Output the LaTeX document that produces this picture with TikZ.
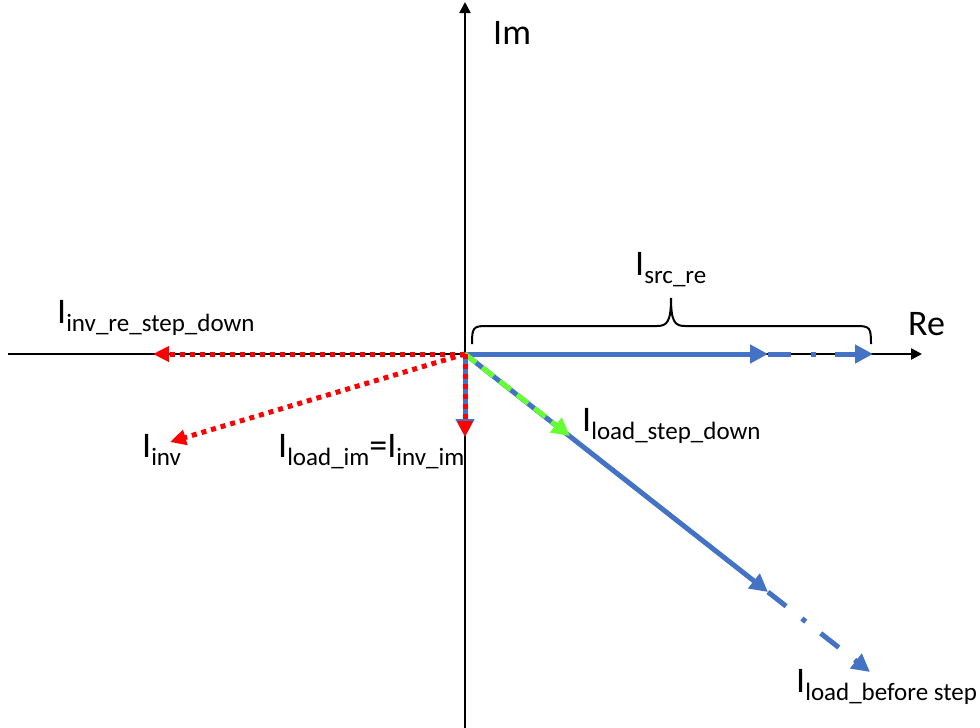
\documentclass[tikz,border=0pt]{standalone}
\usepackage{fontspec}
\setmainfont{Carlito}
\usetikzlibrary{arrows.meta}
\definecolor{vblue}{RGB}{68,114,196}
\definecolor{vred}{RGB}{255,0,0}
\definecolor{vgreen}{RGB}{102,255,51}
\newcommand{\Isub}[1]{I\raisebox{-8pt}{\fontsize{25}{25}\selectfont #1}}
\begin{document}
\begin{tikzpicture}[x=1pt,y=-1pt,
  axis/.style={line width=2.4pt, black, -{Triangle[length=11pt,width=11pt]}},
  bluevec/.style={line width=5pt, vblue, -{Triangle[length=18pt,width=18pt]}},
  bluedd/.style={bluevec, dash pattern=on 23pt off 20pt on 5pt off 19pt},
  redvec/.style={line width=5pt, vred, dash pattern=on 5pt off 5pt, -{Triangle[length=16pt,width=15pt]}},
  greenvec/.style={line width=5pt, vgreen, dash pattern=on 14pt off 8pt, -{Triangle[length=18pt,width=18pt]}},
  lbl/.style={anchor=base west, inner sep=0pt, font=\fontsize{36}{40}\selectfont},
  bracestyle/.style={line width=2pt, black}]
\useasboundingbox (0,0) rectangle (980,728);
% coordinates
\coordinate (O) at (465,354);
\coordinate (axL) at (8,354);
\coordinate (axR) at (922,354);
\coordinate (axT) at (465,2);
\coordinate (axB) at (465,728);
\coordinate (srcA) at (768,354);
\coordinate (srcB) at (873,354);
\coordinate (ldA) at (768,592);
\coordinate (ldB) at (870,672);
\coordinate (gr) at (570,436);
\coordinate (imv) at (465,437);
\coordinate (invre) at (153,354);
\coordinate (inv) at (170,442);
% axes
\draw[axis] (axL) -- (axR);
\draw[axis] (axB) -- (axT);
% brace
\draw[bracestyle] (472,344) .. controls (472,328) and (473,326) .. (486,326) -- (657,326)
  .. controls (667,326) and (671,322) .. (671,298)
  .. controls (671,322) and (675,326) .. (685,326) -- (857,326)
  .. controls (870,326) and (871,328) .. (871,344);
% blue vectors
\draw[bluevec] (O) -- (srcA);
\draw[bluedd] (srcA) -- (srcB);
\draw[bluevec] (O) -- (ldA);
\draw[bluedd] (ldA) -- (ldB);
\draw[bluevec] (O) -- (imv);
% green
\draw[greenvec] (O) -- (gr);
% red
\draw[redvec] (O) -- (invre);
\draw[redvec] (O) -- (inv);
\draw[redvec] (O) -- (imv);
% labels
\node[lbl] (lIm) at (493,44) {Im};
\node[lbl] (lRe) at (908,335) {Re};
\node[lbl] (lsrc) at (635,275) {\Isub{src\_re}};
\node[lbl] (linvre) at (57,323) {\Isub{inv\_re\_step\_down}};
\node[lbl] (linv) at (142,457) {\Isub{inv}};
\node[lbl] (lim) at (278,457) {\Isub{load\_im}=\Isub{inv\_im}};
\node[lbl] (lsd) at (582,431) {\Isub{load\_step\_down}};
\node[lbl] (lbs) at (796,692) {\Isub{load\_before step}};
\end{tikzpicture}
\end{document}
